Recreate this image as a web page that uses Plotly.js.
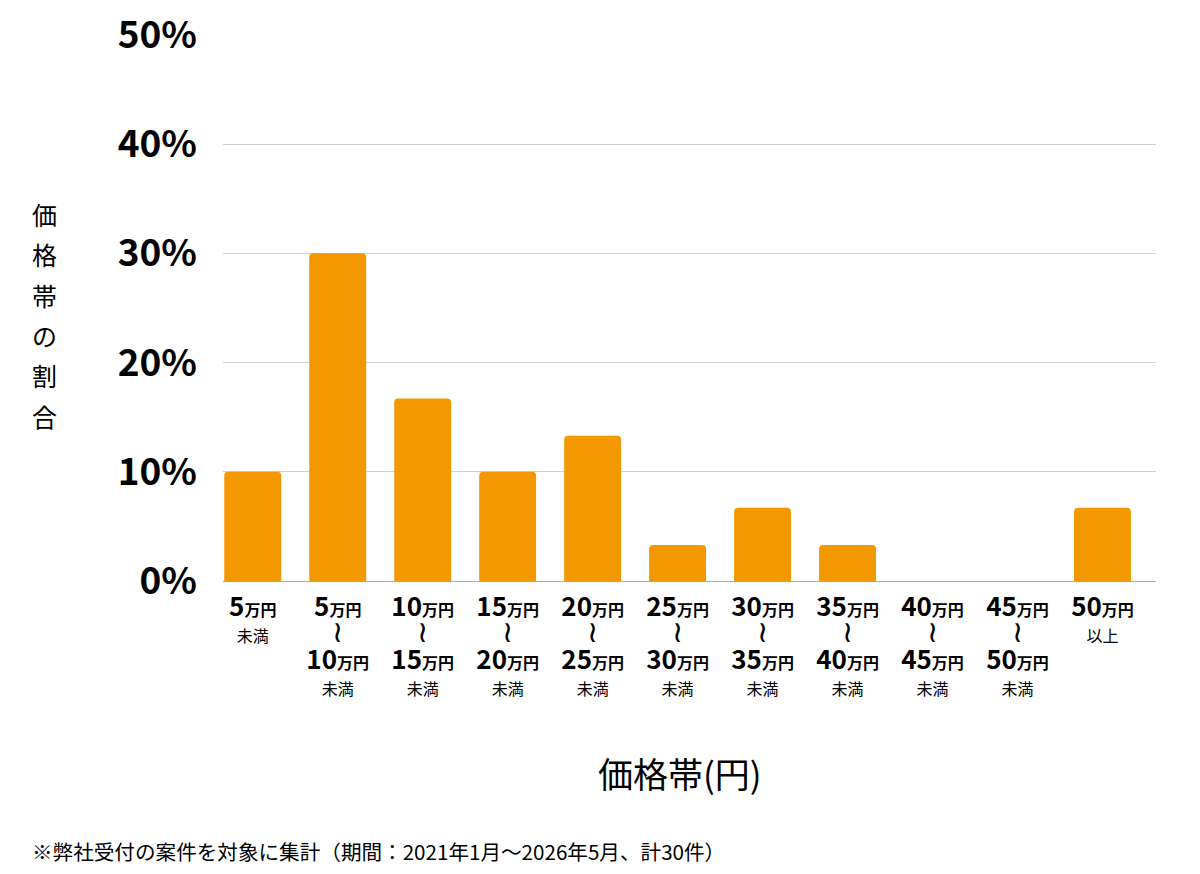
<!DOCTYPE html>
<html>
<head>
<meta charset="utf-8">
<script src="https://cdn.plot.ly/plotly-3.0.1.min.js"></script>
<style>
  body { margin: 0; background: #fff; }
  #plot { width: 1200px; height: 874px; }
</style>
</head>
<body>
<div id="plot"></div>
<script>
// 価格帯ごとの割合（計30件）
var lowerBounds = ['5', '5', '10', '15', '20', '25', '30', '35', '40', '45', '50'];
var upperBounds = [null, '10', '15', '20', '25', '30', '35', '40', '45', '50', null];
var shares = [10.0, 30.0, 16.7, 10.0, 13.3, 3.3, 6.7, 3.3, 0, 0, 6.7];
var yTicks = [0, 10, 20, 30, 40, 50];

function amount(n) {
  return '<b><span style="font-size:26px">' + n + '</span><span style="font-size:16px">万円</span></b>';
}
function small(t) {
  return '<span style="font-size:16px">' + t + '</span>';
}
var wave = '<span style="font-size:30px">≀</span>';

var tickText = lowerBounds.map(function(lo, i) {
  var hi = upperBounds[i];
  if (i === 0) return amount(lo) + '<br>' + small('未満');
  if (hi === null) return amount(lo) + '<br>' + small('以上');
  return amount(lo) + '<br>' + wave + '<br>' + amount(hi) + '<br>' + small('未満');
});
var xPos = lowerBounds.map(function(d, i) { return i; });

var trace = {
  type: 'bar',
  x: xPos,
  y: shares,
  width: 0.67,
  marker: { color: '#F39800', cornerradius: 4 },
  hoverinfo: 'skip'
};

var yLabel = '価格帯の割合'.split('').map(function(c) {
  return '<span style="font-size:25px">' + c + '</span>';
}).join('<br>');

var layout = {
  width: 1200,
  height: 874,
  margin: { l: 223, r: 44, t: 34, b: 293 },
  paper_bgcolor: '#fff',
  plot_bgcolor: '#fff',
  showlegend: false,
  font: { family: '"Noto Sans CJK JP", "Noto Sans", sans-serif', color: '#000' },
  xaxis: {
    range: [-0.35, 10.63],
    tickmode: 'array',
    tickvals: xPos,
    ticktext: tickText,
    tickfont: { size: 20.5, color: '#000' },
    ticklabelstandoff: 13,
    ticks: '',
    showgrid: false,
    zeroline: false,
    showline: false,
    fixedrange: true
  },
  yaxis: {
    range: [0, 50.08],
    tickmode: 'array',
    tickvals: yTicks,
    ticktext: yTicks.map(function(v) { return '<b>' + v + '%</b>'; }),
    tickfont: { size: 37, color: '#000' },
    ticklabelstandoff: 25,
    showgrid: true,
    gridcolor: '#d0d0d0',
    gridwidth: 1,
    zeroline: true,
    zerolinecolor: '#aaaaaa',
    zerolinewidth: 1,
    fixedrange: true
  },
  annotations: [
    {
      text: yLabel, xref: 'paper', yref: 'paper',
      x: -0.1908, y: 0.487, xanchor: 'center', yanchor: 'middle',
      showarrow: false, font: { size: 31, color: '#000' }
    },
    {
      text: '価格帯(円)', xref: 'paper', yref: 'paper',
      x: 0.4895, y: -0.351, xanchor: 'center', yanchor: 'middle',
      showarrow: false, font: { size: 35, color: '#000' }
    },
    {
      text: '※弊社受付の案件を対象に集計（期間：2021年1月〜2026年5月、計30件）',
      xref: 'paper', yref: 'paper',
      x: -0.2069, y: -0.4936, xanchor: 'left', yanchor: 'middle',
      showarrow: false, font: { size: 20.6, color: '#000' }
    }
  ]
};

Plotly.newPlot('plot', [trace], layout, { displayModeBar: false, staticPlot: true });
</script>
</body>
</html>
